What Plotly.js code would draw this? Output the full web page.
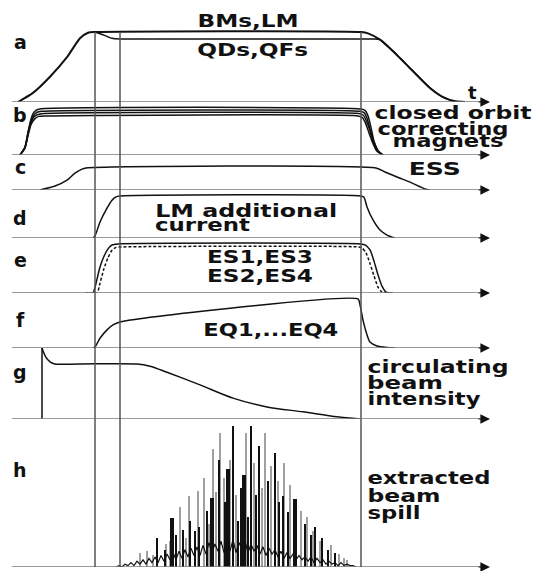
<!DOCTYPE html>
<html><head><meta charset="utf-8">
<script src="https://cdn.plot.ly/plotly-3.0.1.min.js"></script>
<style>html,body{margin:0;padding:0;background:#fff}</style>
</head><body><div id="chart" style="width:539px;height:571px"></div>
<script>
// ---- data (time in arbitrary units, amplitude normalised) ----
// a: BMs,LM and QDs,QFs
const tBM = [18,33,50,67,80,88,95,361,368,380,397,413,430,443,455,465];
const vBM = [0,0.13,0.36,0.64,0.91,0.99,1,1,0.98,0.89,0.67,0.44,0.2,0.07,0.01,0];
const tQD = [95,103,112,120,373,380,397,413,430,443,455,465];
const vQD = [1,0.96,0.91,0.9,0.9,0.89,0.67,0.44,0.2,0.07,0.01,0];
// b: closed orbit correcting magnets
const tCO1 = [20,25,28,31,33,36,40,361,365,368,371,374,378,383];
const vCO1 = [0,0.18,0.5,0.78,0.9,0.97,1,1,0.97,0.85,0.6,0.3,0.1,0];
const tCO2 = [20,25,28,31,34,37,42,360,364,367,370,374,378,383];
const vCO2 = [0,0.17,0.47,0.74,0.87,0.93,0.95,0.95,0.92,0.8,0.56,0.28,0.09,0];
const tCO3 = [20,25,28,31,34,38,44,359,363,366,370,373,377,383];
const vCO3 = [0,0.16,0.45,0.7,0.83,0.88,0.9,0.9,0.87,0.76,0.52,0.28,0.09,0];
const tCO4 = [20,25,28,31,35,39,46,358,362,365,369,373,377,383];
const vCO4 = [0,0.15,0.42,0.66,0.79,0.84,0.85,0.85,0.82,0.72,0.48,0.25,0.08,0];
// c: ESS
const tESS = [40,55,67,75,82,86,376,385,397,410,425,430];
const vESS = [0,0.18,0.45,0.77,0.95,1,1,0.82,0.59,0.36,0.05,0];
// d: LM additional current
const tLM = [93,95,100,107,112,116,120,361,364,367,373,380,387,395];
const vLM = [0,0.05,0.38,0.71,0.9,0.98,1,1,0.97,0.74,0.43,0.19,0.07,0];
// e: electrostatic septa
const tES13 = [85,93,96,100,104,108,112,118,361,365,370,374,378,382,386,393];
const vES13 = [0,0,0.2,0.53,0.75,0.9,0.98,1,1,0.98,0.88,0.65,0.37,0.14,0.02,0];
const tES24 = [90,97,100,104,108,112,116,122,358,362,366,370,374,378,382,386];
const vES24 = [0,0,0.2,0.5,0.72,0.87,0.93,0.94,0.94,0.92,0.82,0.6,0.35,0.12,0.02,0];
// f: EQ1...EQ4
const tEQ = [93,95,100,107,113,120,358,360,363,367,370,377,387,395];
const vEQ = [0,0.02,0.2,0.37,0.47,0.53,1,0.88,0.57,0.27,0.12,0.04,0.01,0];
// g: circulating beam intensity (injection spike + decay)
const tIspike = [42,42];
const vIspike = [0,1.29];
const tI = [42,43,46,50,55,80,137,150,167,200,233,267,303,337,360];
const vI = [1.29,1.24,1.12,1.04,1,1,1,0.96,0.85,0.62,0.38,0.22,0.13,0.04,0];
// h: extracted beam spill
const tSpikeThick = [172,212,228,244,295];
const vSpikeThick = [0.34,0.48,0.68,0.64,0.47];
const tSpikeThin = [157,165,176,183,190,195,199,207,219,225,233,238,241,248,251,256,259,268,275,279,283,288,305,311,315,322,328,335];
const vSpikeThin = [0.2,0.12,0.22,0.26,0.32,0.25,0.28,0.39,0.74,0.45,0.98,0.32,0.55,0.35,0.98,0.5,0.84,0.6,0.79,0.45,0.49,0.38,0.3,0.22,0.28,0.2,0.12,0.1];
const tSpikeGray = [140,147,153,166,170,180,186,189,198,204,209,213,216,220,224,230,236,246,254,262,265,271,278,284,290,296,301,307,313,320,331,339,344,347];
const vSpikeGray = [0.1,0.11,0.08,0.16,0.18,0.42,0.2,0.49,0.53,0.62,0.3,0.82,0.52,0.93,0.62,0.74,0.5,0.93,0.72,0.55,0.93,0.7,0.6,0.72,0.57,0.3,0.39,0.35,0.25,0.18,0.15,0.09,0.06,0.05];
const tFloor = [116,119,122,125,128,131,134,137,140,143,146,149,152,155,158,161,164,167,170,173,176,179,182,185,188,191,194,197,200,203,206,209,212,215,218,221,224,227,230,233,236,239,242,245,248,251,254,257,260,263,266,269,272,275,278,281,284,287,290,293,296,299,302,305,308,311,314,317,320,323,326,329,332,335,338,341,344,347,350,353,356];
const vFloor = [0,0.01,0,0.02,0.01,0.03,0.01,0.04,0.02,
  0.05,0.02,0.06,0.03,0.07,0.03,0.08,0.04,0.09,0.05,
  0.1,0.05,0.11,0.06,0.12,0.07,0.13,0.08,0.14,0.08,
  0.15,0.09,0.17,0.1,0.16,0.11,0.18,0.1,0.17,0.11,
  0.19,0.1,0.17,0.12,0.18,0.1,0.16,0.11,0.15,0.09,
  0.14,0.08,0.13,0.09,0.12,0.07,0.11,0.06,0.1,0.06,
  0.09,0.05,0.08,0.05,0.07,0.04,0.07,0.03,0.06,0.03,
  0.05,0.02,0.04,0.02,0.03,0.01,0.03,0.01,0.02,0.01,0.01,0];
// markers of time (vertical lines)
const tMarks = [95,120,361];
// labels
const panelLetters = ['a','b','c','d','e','f','g','h'];
const labelTexts = ['BMs,LM','QDs,QFs','t','closed orbit','correcting','magnets','ESS','LM additional','current','ES1,ES3','ES2,ES4','EQ1,...EQ4','circulating','beam','intensity','extracted','beam','spill'];

// ---- layout helpers ----
const H = 567; // plot area height in px
const py = v => 1 - v / H;
const axes = ['y','y2','y3','y4','y5','y6','y7','y8'];
// [top px, bottom px, range max]
const panelGeom = [[0,102,1.457],[102,155,1.152],[155,190,1.591],[190,238,1.143],[238,293,1.122],[293,348,1.122],[348,419,1.291],[419,567,1.028]];
const letterY = [42,115,167,218,260,320,372,470];
const labelPos = [[247.5,21,101,17],[252.5,50,111,17],[472,93,0,18],[453.5,113,157,18],[442.5,129,131,18],[447.5,141,111,18],[434,169,52,17],[246,211,182,17],[202.5,224,95,18],[260,257,106,17],[260,276,106,17],[270.5,330,135,17],[437.5,366,141,18],[405,382,76,18],[423.5,398,113,18],[428.5,477,123,18],[403.5,495,73,18],[393.5,512,53,18]];

const black = '#111';
const line = (x, y, ax, opts={}) => Object.assign({type:'scatter', mode:'lines', x, y, yaxis: ax, xaxis:'x', cliponaxis:false, hoverinfo:'skip', line:{color:black, width:1.5, shape:'spline', smoothing:0.6}}, opts);

const data = [
  line(tBM, vBM, 'y', {line:{color:black,width:2,shape:'spline',smoothing:0.6}}),
  line(tQD, vQD, 'y'),
  line(tCO1, vCO1, 'y2'), line(tCO2, vCO2, 'y2'), line(tCO3, vCO3, 'y2'), line(tCO4, vCO4, 'y2'),
  line(tESS, vESS, 'y3'),
  line(tLM, vLM, 'y4'),
  line(tES13, vES13, 'y5'),
  line(tES24, vES24, 'y5', {line:{color:black,width:1.5,dash:'3px,2px',shape:'spline',smoothing:0.6}}),
  line(tEQ, vEQ, 'y6'),
  line(tIspike, vIspike, 'y7', {line:{color:black,width:1.5,shape:'linear'}}),
  line(tI, vI, 'y7', {line:{color:black,width:1.5,shape:'spline',smoothing:0.8}}),
  {type:'bar', x:tSpikeGray, y:vSpikeGray, width:1.8, yaxis:'y8', xaxis:'x', marker:{color:'#a0a0a0', line:{width:0}}, hoverinfo:'skip'},
  {type:'bar', x:tSpikeThin, y:vSpikeThin, width:1.8, yaxis:'y8', xaxis:'x', marker:{color:black, line:{width:0}}, hoverinfo:'skip'},
  {type:'bar', x:tSpikeThick, y:vSpikeThick, width:3.4, yaxis:'y8', xaxis:'x', marker:{color:black, line:{width:0}}, hoverinfo:'skip'},
  line(tFloor, vFloor, 'y8', {line:{color:black,width:1.2,shape:'linear'}})
];

const layout = {
  width:539, height:571,
  margin:{l:12, r:49, t:0, b:4, pad:0},
  paper_bgcolor:'#fff', plot_bgcolor:'rgba(0,0,0,0)',
  showlegend:false, barmode:'overlay', bargap:0,
  xaxis:{range:[12,490], visible:false, fixedrange:true},
  shapes:[], annotations:[],
  font:{family:'DejaVu Sans', color:black}
};
axes.forEach((a, i) => {
  const [top, bot, rmax] = panelGeom[i];
  const key = i === 0 ? 'yaxis' : 'yaxis' + (i + 1);
  layout[key] = {domain:[py(bot), py(top)], range:[0, rmax], visible:false, anchor:'x', fixedrange:true};
  layout.shapes.push({type:'line', xref:'x', yref:a, x0:12, x1:486, y0:0, y1:0, line:{color:'#7a7a7a', width:1.5}});
  layout.annotations.push({x:490, y:0, xref:'x', yref:a, ax:-13, ay:0, text:'', showarrow:true, arrowhead:2, arrowsize:1.6, arrowwidth:1.2, arrowcolor:black});
});
tMarks.forEach(t => layout.shapes.push({type:'line', xref:'x', yref:'paper', x0:t, x1:t, y0:0, y1:py(32), line:{color:'#555', width:1.5}}));
panelLetters.forEach((s, i) => layout.annotations.push({text:s, x:20, y:py(letterY[i]), xref:'x', yref:'paper', showarrow:false, xanchor:'center', yanchor:'middle', font:{size:19, weight:'bold', family:'DejaVu Sans', color:black}}));
const labelStart = layout.annotations.length;
labelTexts.forEach((s, i) => {
  const [cx, cy, w, fs] = labelPos[i];
  layout.annotations.push({text:s, x:cx, y:py(cy), xref:'x', yref:'paper', showarrow:false, xanchor:'center', yanchor:'middle', font:{size:fs, weight:'bold', family:'DejaVu Sans', color:black}});
});

Plotly.newPlot('chart', data, layout, {staticPlot:true, displayModeBar:false}).then(gd => {
  labelTexts.forEach((s, i) => {
    const w = labelPos[i][2];
    if (!w) return;
    const el = gd.querySelector('.annotation[data-index="' + (labelStart + i) + '"] text.annotation-text');
    if (!el) return;
    el.setAttribute('textLength', w);
    el.setAttribute('lengthAdjust', 'spacingAndGlyphs');
  });
});
</script></body></html>
